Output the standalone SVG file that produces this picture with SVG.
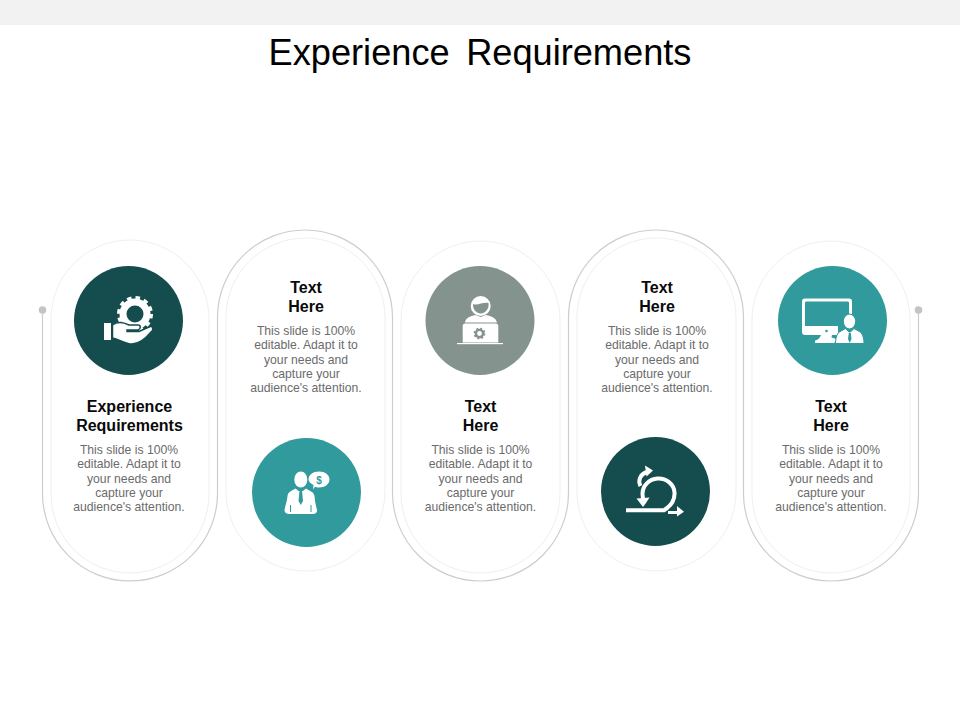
<svg xmlns="http://www.w3.org/2000/svg" width="960" height="720" viewBox="0 0 960 720">
<style>
text{font-family:"Liberation Sans",Arial,sans-serif;text-anchor:middle}
.t{font-size:36.2px;fill:#000;word-spacing:-1.8px}
.h{font-size:16px;font-weight:bold;fill:#0a0a0a}
.b{font-size:12.2px;fill:#6b6b6b}
.pill{fill:#fff;stroke:#efefef;stroke-width:1}
.w{fill:#fff}
.ws{fill:none;stroke:#fff}
</style>
<rect width="960" height="25" fill="#f2f2f2"/>
<text id="title" class="t" x="480" y="65" xml:space="preserve">Experience  Requirements</text>
<g id="connectors">
<path d="M42.500 310V493.500A87.500 87.500 0 0 0 217.500 493.500V317.500A87.500 87.500 0 0 1 392.500 317.500V493A88 88 0 0 0 568.500 493V317.500A87.500 87.500 0 0 1 743.500 317.500V493.500A87.500 87.500 0 0 0 918.500 493.500V310" fill="none" stroke="#cdcdcd" stroke-width="1.200"/>
<circle cx="42.500" cy="310" r="3.800" fill="#c4c4c4"/>
<circle cx="918.500" cy="310" r="3.800" fill="#c4c4c4"/>
</g>
<g id="node1">
<rect class="pill" x="51" y="240" width="158" height="333" rx="79"/>
<circle cx="128.500" cy="320.500" r="54.500" fill="#154c4e"/>
<g id="icon-hand-gear">
<circle cx="135" cy="314" r="12" fill="none" stroke="#fff" stroke-width="7"/>
<circle cx="135" cy="314" r="16" fill="none" stroke="#fff" stroke-width="4" stroke-dasharray="4.400 3.980"/>
<rect class="w" x="104" y="323" width="7" height="17"/>
<path class="w" stroke="#154c4e" stroke-width="1.500" d="M112.500 325C118 321 123 322 129 325H138C141 325 141 329 138 330H127V331.500H139L149 327C153 325 154 330 151 332C146 338 140 344 132 344C125 344 119 339 112.500 338Z"/>
</g>
<text class="h" x="129.500" y="411.500">Experience</text>
<text class="h" x="129.500" y="430.500">Requirements</text>
<text class="b" x="129" y="454">This slide is 100%</text>
<text class="b" x="129" y="468.300">editable. Adapt it to</text>
<text class="b" x="129" y="482.600">your needs and</text>
<text class="b" x="129" y="497">capture your</text>
<text class="b" x="129" y="511.300">audience's attention.</text>
</g>
<g id="node2">
<rect class="pill" x="226" y="238" width="159" height="333" rx="79.500"/>
<text class="h" x="306" y="292.500">Text</text>
<text class="h" x="306" y="311.500">Here</text>
<text class="b" x="306" y="335">This slide is 100%</text>
<text class="b" x="306" y="349.300">editable. Adapt it to</text>
<text class="b" x="306" y="363.600">your needs and</text>
<text class="b" x="306" y="378">capture your</text>
<text class="b" x="306" y="392.300">audience's attention.</text>
<circle cx="306.500" cy="492.500" r="54.500" fill="#319a9c"/>
<g id="icon-man-dollar">
<ellipse class="w" cx="300.800" cy="479.500" rx="6.500" ry="8"/>
<path class="w" d="M295.500 488.500C291 491 288 492 287.500 496C287 502 285 506 284.500 510C284.500 513 287 514 290 514H312C315 514 317.500 513 317 510C316 506 315 502 314.500 496C314 492 310 491 306 488.500L303 491H298.500Z"/>
<path d="M299.500 490.500H302L303 501L300.800 505L298.500 501Z" fill="#319a9c"/>
<path d="M290.500 505V512M311 505V512" fill="none" stroke="#319a9c"/>
<path class="w" d="M319 471.500C325 471.500 329.500 475 329.500 479.500C329.500 484 325 487.500 319 487.500C317.500 487.500 316 487.300 315 486.800L313 489.500L313.500 485C310.500 483.500 308.500 481.500 308.500 479.500C308.500 475 313 471.500 319 471.500Z"/>
<text x="319" y="483.500" style="font-size:10px;font-weight:bold;fill:#319a9c">$</text>
</g>
</g>
<g id="node3">
<rect class="pill" x="401" y="241" width="159" height="332" rx="79.500"/>
<circle cx="480" cy="320.500" r="54.500" fill="#85938f"/>
<g id="icon-laptop-person">
<circle class="w" cx="480.700" cy="306" r="10"/>
<path d="M473 304C477 306 483 302 488.500 303C489.500 309 485 313.500 480.700 313.500C476.500 313.500 472.500 309 473 304Z" fill="#85938f"/>
<path class="w" d="M465 322.500C465.500 318 470 316 475.500 315L480.700 317L486 315C491.500 316 496 318 497 322.500Z"/>
<path class="w" d="M465 323.500H496C497.500 323.500 498.300 324.500 498.300 326V342.500H462.700V326C462.700 324.500 463.500 323.500 465 323.500Z"/>
<rect class="w" x="457" y="343" width="46" height="1.200"/>
<circle cx="479.500" cy="333.500" r="3.600" fill="none" stroke="#85938f" stroke-width="2.400"/>
<circle cx="479.500" cy="333.500" r="5" fill="none" stroke="#85938f" stroke-width="1.800" stroke-dasharray="2 1.930"/>
</g>
<text class="h" x="480.500" y="411.500">Text</text>
<text class="h" x="480.500" y="430.500">Here</text>
<text class="b" x="480.500" y="454">This slide is 100%</text>
<text class="b" x="480.500" y="468.300">editable. Adapt it to</text>
<text class="b" x="480.500" y="482.600">your needs and</text>
<text class="b" x="480.500" y="497">capture your</text>
<text class="b" x="480.500" y="511.300">audience's attention.</text>
</g>
<g id="node4">
<rect class="pill" x="577" y="238" width="159" height="333" rx="79.500"/>
<text class="h" x="657" y="292.500">Text</text>
<text class="h" x="657" y="311.500">Here</text>
<text class="b" x="657" y="335">This slide is 100%</text>
<text class="b" x="657" y="349.300">editable. Adapt it to</text>
<text class="b" x="657" y="363.600">your needs and</text>
<text class="b" x="657" y="378">capture your</text>
<text class="b" x="657" y="392.300">audience's attention.</text>
<circle cx="655.500" cy="491.500" r="54.500" fill="#154c4e"/>
<g id="icon-cycle-arrow">
<path class="ws" stroke-width="4" d="M626 510.300H664C671 506 675 500 674.500 492.500C674 484 666 478 657.500 478.500C649 479 642.500 486 642.500 494C642.500 497 643 499 644 501"/>
<path class="w" d="M636.500 498.500L649.500 497.500L646 503L643 507Z"/>
<path class="ws" stroke-width="4" d="M640.500 486C637.500 480 640.500 474 647 472"/>
<path class="w" d="M645 465.500L653 470.500L646.500 476.500Z"/>
<path class="ws" stroke-width="3" d="M668 512.500H679"/>
<path class="w" d="M677 506L684 511.800L677 516.500Z"/>
</g>
</g>
<g id="node5">
<rect class="pill" x="752" y="241" width="158" height="332" rx="79"/>
<circle cx="832.500" cy="320.500" r="54.500" fill="#319a9c"/>
<g id="icon-monitor-person">
<path class="w" d="M805 298.500H849C851 298.500 852 299.500 852 301.500V314H849V303C849 302 848.500 301.500 847.500 301.500H806.500C805.500 301.500 805 302 805 303V326H838V335H805C803 335 802 334 802 332V301.500C802 299.500 803 298.500 805 298.500Z"/>
<path class="w" d="M821 335H832L831.500 337.500L838 339.500L834 343H815V340.500C818 340 820 338 821 335Z"/>
<circle cx="826.500" cy="331" r="1.300" fill="#319a9c"/>
<ellipse class="w" stroke="#319a9c" stroke-width="1.200" cx="849.500" cy="321.500" rx="6.300" ry="7.500"/>
<path class="w" stroke="#319a9c" stroke-width="1" d="M845.500 328.500L838.500 332.500C836 336 835.500 340 835.500 343.500H864C864 340 863.500 336 861 332.500L854 328.500L850.500 332H849Z"/>
<path d="M848.800 333H850.800L851.500 339L849.800 343L848 339Z" fill="#319a9c"/>
</g>
<text class="h" x="831" y="411.500">Text</text>
<text class="h" x="831" y="430.500">Here</text>
<text class="b" x="831" y="454">This slide is 100%</text>
<text class="b" x="831" y="468.300">editable. Adapt it to</text>
<text class="b" x="831" y="482.600">your needs and</text>
<text class="b" x="831" y="497">capture your</text>
<text class="b" x="831" y="511.300">audience's attention.</text>
</g>
</svg>
